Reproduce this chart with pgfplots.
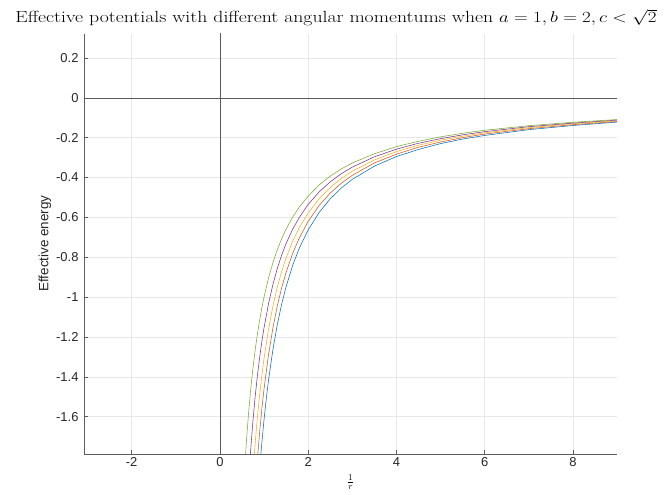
\documentclass[border=0pt]{standalone}
\usepackage{pgfplots}
\pgfplotsset{compat=1.18}
\usepackage{graphicx}
\usepackage{fontspec}
\newfontfamily\helv{Liberation Sans}
\definecolor{mblue}{rgb}{0,0.447,0.741}
\definecolor{morange}{rgb}{0.85,0.325,0.098}
\definecolor{myellow}{rgb}{0.929,0.694,0.125}
\definecolor{mpurple}{rgb}{0.494,0.184,0.556}
\definecolor{mgreen}{rgb}{0.466,0.674,0.188}
\definecolor{axgray}{rgb}{0.15,0.15,0.15}
\begin{document}
\begin{tikzpicture}
\begin{axis}[
  scale only axis, width=533bp, height=420bp,
  xmin=-3.08, xmax=9, ymin=-1.787, ymax=0.32,
  axis lines*=left, axis line style={-, draw=axgray!75, line width=0.6bp},
  tick align=inside, major tick length=4bp, tick style={axgray!75, line width=0.5bp},
  grid=major, grid style={black!9, line width=0.5bp},
  xtick={-2,0,2,4,6,8}, xticklabels={-2,0,2,4,6,8},
  ytick={-1.6,-1.4,-1.2,-1,-0.8,-0.6,-0.4,-0.2,0,0.2},
  yticklabels={-1.6,-1.4,-1.2,-1,-0.8,-0.6,-0.4,-0.2,0,0.2},
  tick label style={font=\helv\fontsize{13}{15}\selectfont, text=axgray},
  yticklabel style={xshift=-2bp},
  every axis plot/.append style={line width=0.55bp, no markers},
  clip=true,
]
\addplot[black!65, line width=0.5bp] coordinates {(0,-1.8) (0,0.4)};
\addplot[black!65, line width=0.5bp] coordinates {(-3.2,0) (9.1,0)};
% blue
\addplot[mblue] coordinates {(0.85,-2.020) (0.9,-1.866) (0.95,-1.732) (1.0,-1.615) (1.05,-1.512) (1.1,-1.420) (1.2,-1.265) (1.3,-1.139) (1.4,-1.035) (1.5,-0.948) (1.65,-0.840) (1.8,-0.754) (2.0,-0.663) (2.25,-0.575) (2.5,-0.507) (2.75,-0.453) (3.0,-0.409) (3.5,-0.343) (4.0,-0.295) (4.5,-0.259) (5,-0.230) (5.5,-0.207) (6,-0.189) (7,-0.160) (8,-0.139) (9,-0.122)};
% orange
\addplot[morange] coordinates {(0.8,-1.966) (0.85,-1.812) (0.9,-1.679) (0.95,-1.563) (1.0,-1.461) (1.1,-1.292) (1.2,-1.156) (1.3,-1.045) (1.4,-0.953) (1.5,-0.876) (1.65,-0.780) (1.8,-0.703) (2.0,-0.620) (2.25,-0.540) (2.5,-0.478) (2.75,-0.429) (3.0,-0.389) (3.5,-0.327) (4.0,-0.283) (4.5,-0.248) (5,-0.222) (5.5,-0.200) (6,-0.182) (7,-0.155) (8,-0.135) (9,-0.119)};
% yellow
\addplot[myellow] coordinates {(0.7,-2.060) (0.75,-1.883) (0.8,-1.732) (0.85,-1.603) (0.9,-1.491) (0.95,-1.394) (1.0,-1.308) (1.1,-1.163) (1.2,-1.047) (1.3,-0.951) (1.4,-0.871) (1.5,-0.804) (1.65,-0.719) (1.8,-0.651) (2.0,-0.578) (2.25,-0.506) (2.5,-0.450) (2.75,-0.405) (3.0,-0.368) (3.5,-0.312) (4.0,-0.270) (4.5,-0.238) (5,-0.213) (5.5,-0.193) (6,-0.176) (7,-0.150) (8,-0.130) (9,-0.116)};
% purple
\addplot[mpurple] coordinates {(0.65,-1.927) (0.7,-1.759) (0.75,-1.618) (0.8,-1.498) (0.85,-1.394) (0.9,-1.304) (0.95,-1.224) (1.0,-1.154) (1.1,-1.035) (1.2,-0.938) (1.3,-0.857) (1.4,-0.789) (1.5,-0.731) (1.65,-0.659) (1.8,-0.600) (2.0,-0.535) (2.25,-0.472) (2.5,-0.422) (2.75,-0.381) (3.0,-0.348) (3.5,-0.296) (4.0,-0.258) (4.5,-0.228) (5,-0.205) (5.5,-0.186) (6,-0.170) (7,-0.145) (8,-0.127) (9,-0.112)};
% green
\addplot[mgreen] coordinates {(0.55,-1.902) (0.6,-1.726) (0.65,-1.581) (0.7,-1.458) (0.75,-1.354) (0.8,-1.264) (0.85,-1.186) (0.9,-1.116) (0.95,-1.055) (1.0,-1.000) (1.1,-0.906) (1.2,-0.828) (1.3,-0.763) (1.4,-0.707) (1.5,-0.659) (1.65,-0.598) (1.8,-0.548) (2.0,-0.493) (2.25,-0.437) (2.5,-0.393) (2.75,-0.357) (3.0,-0.327) (3.5,-0.281) (4.0,-0.245) (4.5,-0.218) (5,-0.196) (5.5,-0.178) (6,-0.163) (7,-0.140) (8,-0.123) (9,-0.109)};
\end{axis}
\node[anchor=base, inner sep=0pt] at (252bp,431bp) {\scalebox{1.10}[0.9]{\fontsize{18}{21}\selectfont Effective potentials with different angular momentums when $a=1,b=2,c<\sqrt{2}$}};
\node[font=\helv\fontsize{13.5}{16}\selectfont, rotate=90, text=axgray] at (-39bp,210.5bp) {Effective energy};
\node[font=\fontsize{13}{15}\selectfont] at (266.5bp,-28bp) {$\frac{1}{r}$};
\pgfresetboundingbox
\path[use as bounding box] (-84bp,-41bp) rectangle (583bp,454bp);
\end{tikzpicture}
\end{document}
